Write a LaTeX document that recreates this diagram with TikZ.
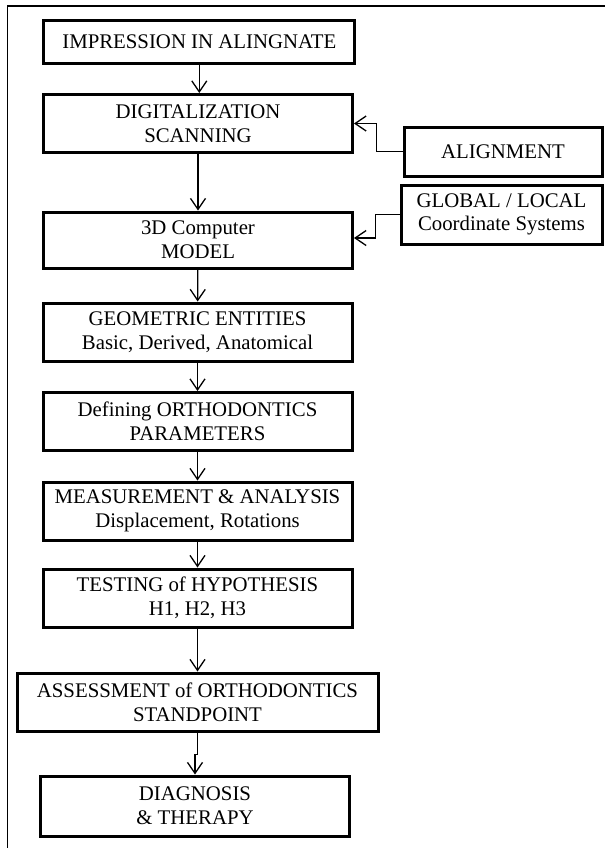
\documentclass[tikz,border=0pt]{standalone}
\usepackage{fontspec}
\setmainfont{Liberation Serif}
\usepackage{tikz}
\usetikzlibrary{arrows.meta}
\tikzset{
    raw flow box/.style={rectangle, draw, line width=1.5pt, align=center, inner sep=2pt, font=\fontsize{10.4}{11.8}\selectfont},
    flow box/.style={raw flow box, minimum width=154.5pt, minimum height=29pt},
    wide flow box/.style={raw flow box, minimum width=180.5pt, minimum height=29pt},
    side box/.style={raw flow box, minimum width=99pt, minimum height=24.5pt},
    flow arrow/.style={-{Straight Barb[length=5.5pt,width=7.5pt]}, line width=0.65pt}
}

\begin{document}
\begin{tikzpicture}[x=0.5pt, y=-0.5pt]
	\useasboundingbox (0,0) rectangle (605,848);
	\draw[line width=0.6pt] (7.5,848) -- (7.5,6) -- (605,6);
		\begin{scope}[every node/.style={flow box}]
			\node[minimum width=155.5pt, minimum height=21.5pt] (impr) at (199.3,41.5) {IMPRESSION IN ALINGNATE};
			\node (scan) at (198,123.5) {DIGITALIZATION\\SCANNING};
			\node[minimum height=28pt] (model) at (198,240) {3D Computer\\MODEL};
			\node (geom) at (197.5,332) {GEOMETRIC ENTITIES\\Basic, Derived, Anatomical};
			\node (param) at (197.5,421.5) {Defining ORTHODONTICS\\PARAMETERS};
			\node (meas) at (197.5,511) {MEASUREMENT \& ANALYSIS\\Displacement, Rotations};
			\node (test) at (197.5,598) {TESTING of HYPOTHESIS\\H1, H2, H3};
			\node[wide flow box] (assess) at (197.5,702) {ASSESSMENT of ORTHODONTICS\\STANDPOINT};
			\node[minimum height=30pt] (diag) at (195,806) {DIAGNOSIS\\\& THERAPY};
		\end{scope}
		\node[side box] (align) at (503,151.5) {ALIGNMENT};
		\node[side box, minimum width=100.5pt, minimum height=29.5pt] (coord) at (501.5,214.5) {GLOBAL / LOCAL\\Coordinate Systems};
	\draw[flow arrow] (impr.south) -- (impr.south |- scan.north);
	\draw[flow arrow] (scan) -- (model);
	\draw[flow arrow] (model) -- (geom);
	\draw[flow arrow] (geom) -- (param);
	\draw[flow arrow] (param) -- (meas);
	\draw[flow arrow] (meas) -- (test);
	\draw[flow arrow] (test.south) -- ++(0,23) -| (assess.north);
	\draw[flow arrow] (assess.south) -- ++(0,22) -| (diag.north);
	\draw[flow arrow] (align.west) -- ++(-26,0) |- (scan.east);
	\draw[flow arrow] (coord.west) -- ++(-24,0) |- ([yshift=1pt]model.east);
\end{tikzpicture}
\end{document}
